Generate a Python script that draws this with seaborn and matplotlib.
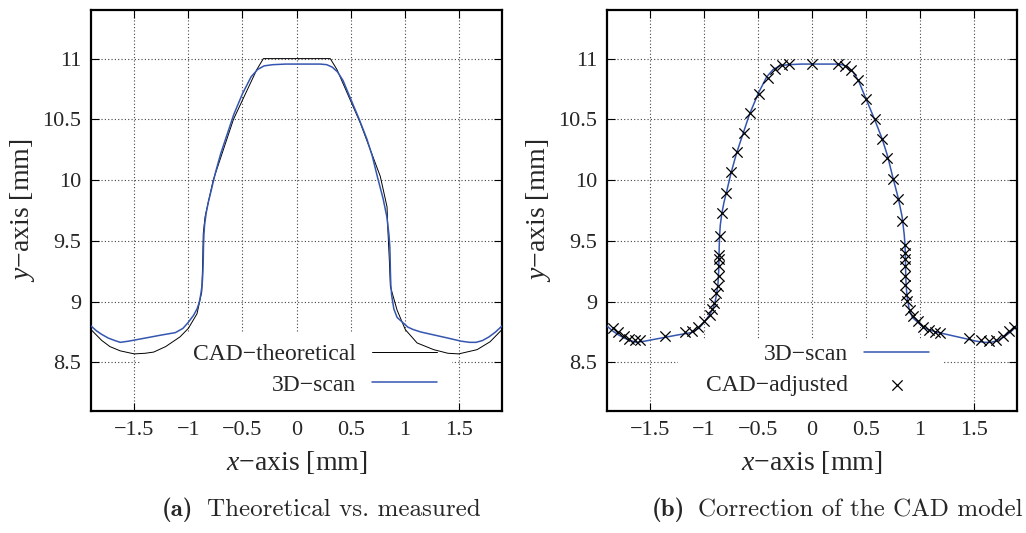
import numpy as np
import pandas as pd
import matplotlib
matplotlib.use("Agg")
import matplotlib.pyplot as plt
from matplotlib.patches import Rectangle
import seaborn as sns

# ---------------- data ----------------
cad_x = [-1.90, -1.80, -1.725, -1.63, -1.50, -1.40, -1.32, -1.21, -1.077, -1.00, -0.92,
         -0.876, -0.868, -0.862, -0.845, -0.77, -0.583, -0.367, -0.306, 0.0, 0.312, 0.374,
         0.59, 0.775, 0.837, 0.845, 0.858, 0.868, 0.93, 1.006, 1.115, 1.268, 1.40, 1.50,
         1.67, 1.79, 1.90]
cad_y = [8.77, 8.68, 8.63, 8.595, 8.57, 8.575, 8.585, 8.63, 8.71, 8.78, 8.90,
         9.08, 9.30, 9.56, 9.70, 10.0, 10.50, 10.91, 11.0, 11.0, 11.0, 10.91,
         10.47, 10.03, 9.78, 9.59, 9.35, 9.125, 8.93, 8.77, 8.66, 8.605, 8.575, 8.57,
         8.605, 8.67, 8.77]

scan_x = [-1.90, -1.85, -1.80, -1.74, -1.68, -1.63, -1.55, -1.40, -1.25, -1.12, -1.05,
          -1.00, -0.95, -0.92, -0.90, -0.885, -0.872, -0.865, -0.862, -0.860, -0.856,
          -0.850, -0.835, -0.815, -0.79, -0.75, -0.70, -0.64, -0.58, -0.50, -0.42, -0.36,
          -0.30, -0.22, -0.10, 0.0, 0.10, 0.22, 0.28, 0.33, 0.38, 0.43, 0.50, 0.58, 0.65,
          0.70, 0.75, 0.80, 0.835, 0.855, 0.863, 0.866, 0.868, 0.872, 0.88, 0.90, 0.93,
          0.98, 1.03, 1.08, 1.15, 1.25, 1.40, 1.52, 1.60, 1.66, 1.72, 1.78, 1.84, 1.90]
scan_y = [8.80, 8.76, 8.73, 8.70, 8.68, 8.665, 8.675, 8.70, 8.725, 8.745, 8.78,
          8.83, 8.89, 8.94, 8.99, 9.06, 9.14, 9.25, 9.35, 9.45, 9.55,
          9.63, 9.73, 9.82, 9.91, 10.06, 10.22, 10.38, 10.54, 10.71, 10.85, 10.91,
          10.94, 10.95, 10.955, 10.955, 10.955, 10.955, 10.95, 10.93, 10.89, 10.82, 10.67,
          10.50, 10.34, 10.20, 10.02, 9.85, 9.70, 9.55, 9.45, 9.35, 9.25, 9.14, 9.05,
          8.94, 8.87, 8.83, 8.79, 8.77, 8.75, 8.73, 8.70, 8.675, 8.665, 8.665, 8.68,
          8.71, 8.75, 8.80]

adj_x = [-1.848, -1.796, -1.740, -1.694, -1.642, -1.593, -1.365, -1.181, -1.110, -1.055,
         -1.002, -0.950, -0.926, -0.904, -0.889, -0.873, -0.864, -0.861, -0.860, -0.858,
         -0.849, -0.833, -0.793, -0.750, -0.695, -0.633, -0.572, -0.495, -0.412, -0.341,
         -0.280, -0.212, -0.003, 0.243, 0.304, 0.357, 0.427, 0.504, 0.581, 0.652, 0.695,
         0.750, 0.796, 0.836, 0.861, 0.864, 0.864, 0.861, 0.861, 0.861, 0.867, 0.879,
         0.904, 0.935, 0.981, 1.027, 1.082, 1.144, 1.187, 1.458, 1.565, 1.642, 1.704,
         1.774, 1.827, 1.873]
adj_y = [8.784, 8.748, 8.715, 8.693, 8.682, 8.682, 8.721, 8.751, 8.762, 8.789,
         8.839, 8.894, 8.940, 8.990, 9.072, 9.127, 9.210, 9.292, 9.347, 9.380,
         9.539, 9.731, 9.896, 10.066, 10.231, 10.390, 10.555, 10.706, 10.843, 10.912,
         10.945, 10.959, 10.959, 10.959, 10.939, 10.906, 10.821, 10.665, 10.506, 10.341,
         10.184, 10.006, 9.841, 9.663, 9.470, 9.402, 9.347, 9.292, 9.210, 9.141, 9.058,
         9.004, 8.935, 8.880, 8.839, 8.792, 8.770, 8.748, 8.743, 8.702, 8.682, 8.674,
         8.688, 8.721, 8.756, 8.792]

x_ticks = [-1.5, -1, -0.5, 0, 0.5, 1, 1.5]
y_ticks = [8.5, 9, 9.5, 10, 10.5, 11]

cad_df = pd.DataFrame({"x": cad_x, "y": cad_y})
scan_df = pd.DataFrame({"x": scan_x, "y": scan_y})
adj_df = pd.DataFrame({"x": adj_x, "y": adj_y})

MINUS = "\u2212"

# ---------------- style ----------------
sns.set_style("ticks")
plt.rcParams["font.family"] = ["Liberation Serif", "DejaVu Serif"]
plt.rcParams["mathtext.fontset"] = "custom"
plt.rcParams["mathtext.rm"] = "Liberation Serif"
plt.rcParams["mathtext.it"] = "Liberation Serif:italic"
plt.rcParams["axes.unicode_minus"] = True

BLUE = "#3556b0"
TICK_FS = 16
LABEL_FS = 20
LEG_FS = 17
CAP_FS = 18

W, H = 1026, 533
fig = plt.figure(figsize=(W / 100, H / 100), dpi=100)
ax1 = fig.add_axes([91 / W, 1 - 411 / H, 411 / W, 401 / H])
ax2 = fig.add_axes([607 / W, 1 - 411 / H, 410 / W, 401 / H])

XLABEL = r"$x$" + MINUS + "axis [mm]"
YLABEL = r"$y$" + MINUS + "axis [mm]"


def fmt(t):
    return ("%g" % t).replace("-", MINUS)


def style_axes(ax):
    ax.set_xlim(-1.9, 1.9)
    ax.set_ylim(8.1, 11.4)
    ax.set_xticks(x_ticks)
    ax.set_yticks(y_ticks)
    ax.set_xticklabels([fmt(t) for t in x_ticks])
    ax.set_yticklabels([fmt(t) for t in y_ticks])
    ax.set_axisbelow(True)
    ax.grid(True, color="#444444", linestyle=(0, (1, 2)), linewidth=0.8)
    ax.tick_params(direction="in", top=True, right=True, length=5.5, width=0.8,
                   labelsize=TICK_FS, pad=7, color="black")
    for sp in ax.spines.values():
        sp.set_linewidth(1.6)
        sp.set_color("black")
        sp.set_visible(True)


def set_labels(ax):
    ax.set_xlabel(XLABEL, fontsize=LABEL_FS, labelpad=7)
    ax.set_ylabel(YLABEL, fontsize=LABEL_FS, labelpad=4)


# ---- panel (a) ----
style_axes(ax1)
ax1.add_patch(Rectangle((0.119, 0.0), 0.759, 0.195, transform=ax1.transAxes,
                        facecolor="white", edgecolor="none", zorder=1))
sns.lineplot(data=cad_df, x="x", y="y", ax=ax1, color="black", linewidth=0.7,
             estimator=None, sort=False, label="CAD" + MINUS + "theoretical", zorder=3)
sns.lineplot(data=scan_df, x="x", y="y", ax=ax1, color=BLUE, linewidth=1.1,
             estimator=None, sort=False, label="3D" + MINUS + "scan", zorder=4)
set_labels(ax1)
leg1 = ax1.legend(loc="center right", bbox_to_anchor=(0.842, 0.1035), frameon=False,
                  markerfirst=False, fontsize=LEG_FS, handlelength=2.75,
                  handletextpad=0.7, labelspacing=0.4, borderpad=0, borderaxespad=0)
leg1.set_zorder(2)

# ---- panel (b) ----
style_axes(ax2)
ax2.add_patch(Rectangle((0.173, 0.0), 0.647, 0.177, transform=ax2.transAxes,
                        facecolor="white", edgecolor="none", zorder=1))
sns.lineplot(data=scan_df, x="x", y="y", ax=ax2, color=BLUE, linewidth=1.1,
             estimator=None, sort=False, label="3D" + MINUS + "scan", zorder=3)
sns.scatterplot(data=adj_df, x="x", y="y", ax=ax2, color="black", marker="x",
                s=55, linewidth=0.9, label="CAD" + MINUS + "adjusted", zorder=4)
set_labels(ax2)
leg2 = ax2.legend(loc="center right", bbox_to_anchor=(0.786, 0.1035), frameon=False,
                  markerfirst=False, fontsize=LEG_FS, handlelength=2.75,
                  handletextpad=0.7, labelspacing=0.4, borderpad=0, borderaxespad=0,
                  scatterpoints=1)
leg2.set_zorder(2)

# ---- captions ----
fig.text(162 / W, 1 - 510 / H, "(a)", fontsize=CAP_FS, family="cmb10",
         ha="left", va="center")
fig.text(207 / W, 1 - 510 / H, "Theoretical vs. measured", fontsize=CAP_FS,
         family="cmr10", ha="left", va="center")
fig.text(652 / W, 1 - 510 / H, "(b)", fontsize=CAP_FS, family="cmb10",
         ha="left", va="center")
fig.text(698 / W, 1 - 510 / H, "Correction of the CAD model", fontsize=CAP_FS,
         family="cmr10", ha="left", va="center")

fig.savefig("out.png", dpi=100, facecolor="white")
